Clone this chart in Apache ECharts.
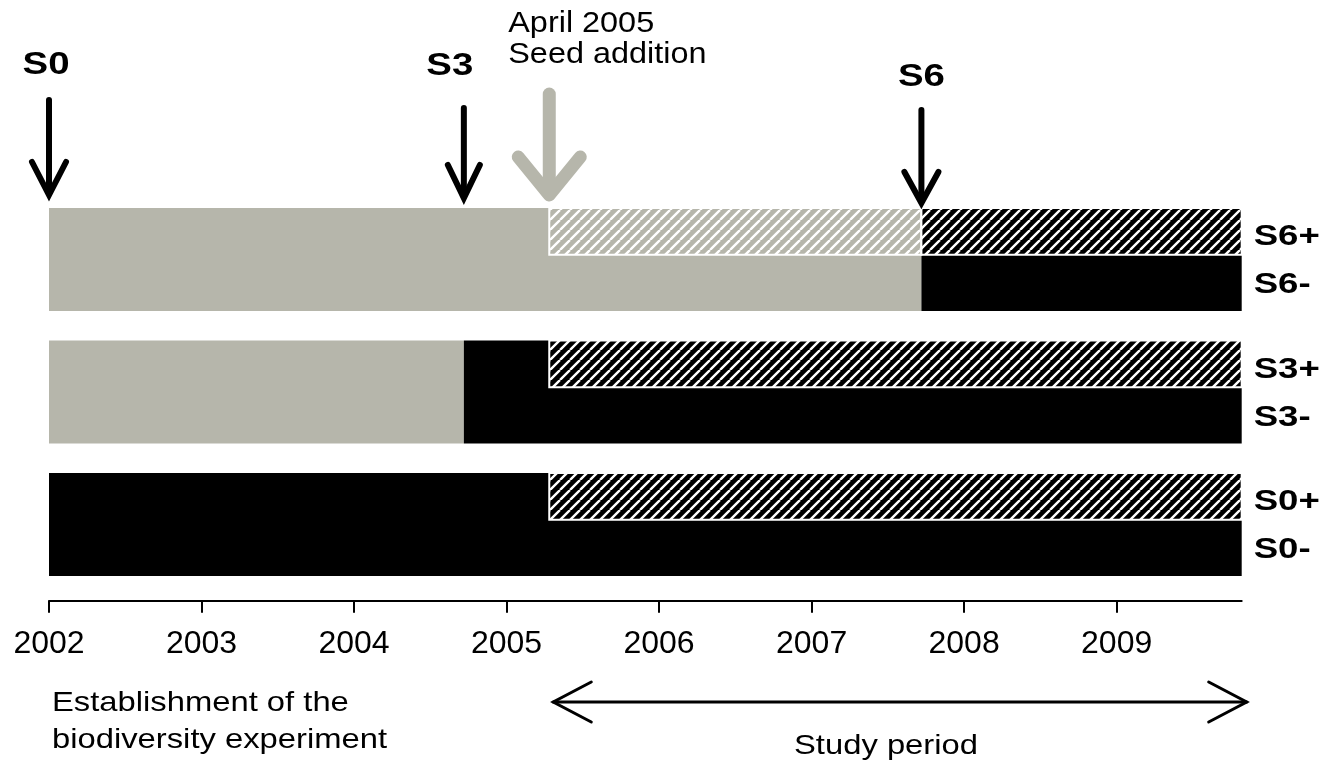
<!DOCTYPE html>
<html><head><meta charset="utf-8">
<script src="https://cdn.jsdelivr.net/npm/echarts@6/dist/echarts.min.js"></script>
<style>html,body{margin:0;padding:0;background:#fff}#c{width:1338px;height:767px}</style>
</head><body><div id="c"></div>
<script>
// ---------- data ----------
const groups = ['S6', 'S3', 'S0'];
const tickYears = [2002, 2003, 2004, 2005, 2006, 2007, 2008, 2009];
const startYear = 2002;
const endYear = 2009.82;

// full-height status segments (gray = not yet weeded, black = weeded)
const barGroup = ['S6', 'S6', 'S3', 'S3', 'S0'];
const barStart = [2002, 2007.72, 2002, 2004.72, 2002];
const barEnd   = [2007.72, 2009.82, 2004.72, 2009.82, 2009.82];
const barKind  = ['gray', 'black', 'gray', 'black', 'black'];

// seed addition (+) halves, hatched
const hatchGroup = ['S6', 'S6', 'S3', 'S0'];
const hatchStart = [2005.28, 2007.72, 2005.28, 2005.28];
const hatchEnd   = [2007.72, 2009.82, 2009.82, 2009.82];
const hatchKind  = ['grayHatch', 'blackHatch', 'blackHatch', 'blackHatch'];

const rowLabels = ['S6+', 'S6-', 'S3+', 'S3-', 'S0+', 'S0-'];

const eventLabels = ['S0', 'S3', 'April 2005\nSeed addition', 'S6'];
const eventYears  = [2002, 2004.72, 2005.28, 2007.72];

const studyStart = 2005.28;
const studyEnd = 2009.82;
const studyLabel = 'Study period';
const establishLabel = 'Establishment of the\nbiodiversity experiment';

// ---------- styles ----------
const FONT = '"Liberation Sans", Arial, sans-serif';
const GRAY = '#b6b6ab';
function makeHatch(bg) {
  const c = document.createElement('canvas');
  c.width = 10; c.height = 10;
  const g = c.getContext('2d');
  g.fillStyle = bg; g.fillRect(0, 0, 10, 10);
  g.strokeStyle = '#fff'; g.lineWidth = 2.4;
  g.beginPath();
  for (const o of [-10, 0, 10]) { g.moveTo(o, 10); g.lineTo(o + 10, 0); }
  g.stroke();
  return c;
}
const fills = {
  gray: GRAY,
  black: '#000',
  grayHatch: { image: makeHatch(GRAY), repeat: 'repeat' },
  blackHatch: { image: makeHatch('#000'), repeat: 'repeat' }
};
const BAR_RATIO = 0.777;
const HATCH_RATIO = 0.455;

const eventStyle = [
  { dx: -3,  ly: 65, top: 100, tip: 195, color: '#000', lw: 6,  hx: 17, hy: 33, bold: true, align: 'center' },
  { dx: -14, ly: 66, top: 108, tip: 198, color: '#000', lw: 6,  hx: 16, hy: 33, bold: true, align: 'center' },
  { dx: -41, ly: 39, top: 94,  tip: 195, color: GRAY,   lw: 13, hx: 31, hy: 38, bold: false, align: 'left' },
  { dx: 0,   ly: 77, top: 110, tip: 203, color: '#000', lw: 6,  hx: 17, hy: 31, bold: true, align: 'center' }
];

const chart = echarts.init(document.getElementById('c'), null, { renderer: 'canvas' });

function barItem(params, api) {
  const p0 = api.coord([api.value(0), api.value(2)]);
  const p1 = api.coord([api.value(1), api.value(2)]);
  const h = api.size([0, 1])[1] * BAR_RATIO;
  return { type: 'rect', shape: { x: p0[0], y: p0[1] - h / 2, width: p1[0] - p0[0], height: h },
    style: { fill: fills[barKind[params.dataIndex]] }, silent: true };
}
function hatchItem(params, api) {
  const p0 = api.coord([api.value(0), api.value(2)]);
  const p1 = api.coord([api.value(1), api.value(2)]);
  const H = api.size([0, 1])[1] * BAR_RATIO;
  const top = p0[1] - H / 2;
  return { type: 'rect', shape: { x: p0[0], y: top, width: p1[0] - p0[0], height: H * HATCH_RATIO },
    style: { fill: fills[hatchKind[params.dataIndex]], stroke: '#fff', lineWidth: 2 }, silent: true };
}
function rowLabelItem(params, api) {
  const i = params.dataIndex;
  const p = api.coord([api.value(0), api.value(1)]);
  const H = api.size([0, 1])[1] * BAR_RATIO;
  const plus = rowLabels[i].endsWith('+');
  const y = p[1] + (plus ? -0.218 * H : 0.248 * H);
  return { type: 'text', x: p[0] + 12, y: y, scaleX: 1.22, silent: true,
    style: { text: rowLabels[i], fontFamily: FONT, fontWeight: 'bold', fontSize: 30, fill: '#000',
      align: 'left', verticalAlign: 'middle' } };
}
function eventItem(params, api) {
  const i = params.dataIndex;
  const s = eventStyle[i];
  const x = api.coord([api.value(0), 0])[0];
  const children = [];
  children.push({ type: 'line', shape: { x1: x, y1: s.top, x2: x, y2: s.tip - 4 },
    style: { stroke: s.color, lineWidth: s.lw, lineCap: 'round' } });
  children.push({ type: 'polyline', shape: { points: [[x - s.hx, s.tip - s.hy], [x, s.tip], [x + s.hx, s.tip - s.hy]] },
    style: { stroke: s.color, lineWidth: s.lw, lineCap: 'round', lineJoin: s.bold ? 'miter' : 'round', fill: null } });
  if (s.bold) {
    children.push({ type: 'text', x: x + s.dx, y: s.ly, scaleX: 1.2,
      style: { text: eventLabels[i], fontFamily: FONT, fontWeight: 'bold', fontSize: 32, fill: '#000',
        align: 'center', verticalAlign: 'middle' } });
  } else {
    children.push({ type: 'text', x: x + s.dx, y: s.ly, scaleX: 1.08,
      style: { text: eventLabels[i], fontFamily: FONT, fontSize: 30, lineHeight: 31, fill: '#000',
        align: 'left', verticalAlign: 'middle' } });
  }
  return { type: 'group', children: children, silent: true };
}
function studyItem(params, api) {
  const x1 = api.coord([api.value(0), 0])[0] + 4;
  const x2 = api.coord([api.value(1), 0])[0] + 5;
  const y = 702;
  const st = { stroke: '#000', lineWidth: 3, lineCap: 'round', lineJoin: 'miter', fill: null };
  return { type: 'group', silent: true, children: [
    { type: 'line', shape: { x1: x1, y1: y, x2: x2, y2: y }, style: st },
    { type: 'polyline', shape: { points: [[x1 + 38, y - 20], [x1, y], [x1 + 38, y + 20]] }, style: st },
    { type: 'polyline', shape: { points: [[x2 - 38, y - 20], [x2, y], [x2 - 38, y + 20]] }, style: st },
    { type: 'text', x: (x1 + x2) / 2 - 14, y: 746, scaleX: 1.17,
      style: { text: studyLabel, fontFamily: FONT, fontSize: 28, fill: '#000', align: 'center', verticalAlign: 'middle' } }
  ] };
}
function establishItem(params, api) {
  const x = api.coord([api.value(0), 0])[0] + 3;
  return { type: 'text', x: x, y: 722, scaleX: 1.17, silent: true,
    style: { text: establishLabel, fontFamily: FONT, fontSize: 28, lineHeight: 37, fill: '#000',
      align: 'left', verticalAlign: 'middle' } };
}

const option = {
  animation: false,
  backgroundColor: '#fff',
  grid: { left: 49, right: 96.3, top: 193.25, height: 397.5, containLabel: false },
  xAxis: {
    type: 'value', min: startYear, max: endYear, interval: 1, offset: 10,
    splitLine: { show: false },
    axisLine: { show: true, lineStyle: { color: '#000', width: 2 } },
    axisTick: { show: true, length: 12, customValues: tickYears, lineStyle: { color: '#000', width: 2 } },
    axisLabel: { customValues: tickYears, margin: 27, fontFamily: FONT, fontSize: 32, color: '#000',
      formatter: v => String(v) }
  },
  yAxis: { type: 'category', data: groups, inverse: true, show: false },
  series: [
    { type: 'custom', renderItem: barItem, clip: false, encode: { x: [0, 1], y: 2 },
      data: barStart.map((s, i) => [s, barEnd[i], groups.indexOf(barGroup[i])]) },
    { type: 'custom', renderItem: hatchItem, clip: false, encode: { x: [0, 1], y: 2 },
      data: hatchStart.map((s, i) => [s, hatchEnd[i], groups.indexOf(hatchGroup[i])]) },
    { type: 'custom', renderItem: rowLabelItem, clip: false, encode: { x: 0, y: 1 },
      data: rowLabels.map(l => [endYear, groups.indexOf(l.slice(0, 2))]) },
    { type: 'custom', renderItem: eventItem, clip: false, encode: { x: 0 },
      data: eventYears.map(y => [y, 0]) },
    { type: 'custom', renderItem: studyItem, clip: false, encode: { x: [0, 1] },
      data: [[studyStart, studyEnd, 0]] },
    { type: 'custom', renderItem: establishItem, clip: false, encode: { x: 0 },
      data: [[startYear, 0]] }
  ]
};
chart.setOption(option);
</script>
</body></html>
